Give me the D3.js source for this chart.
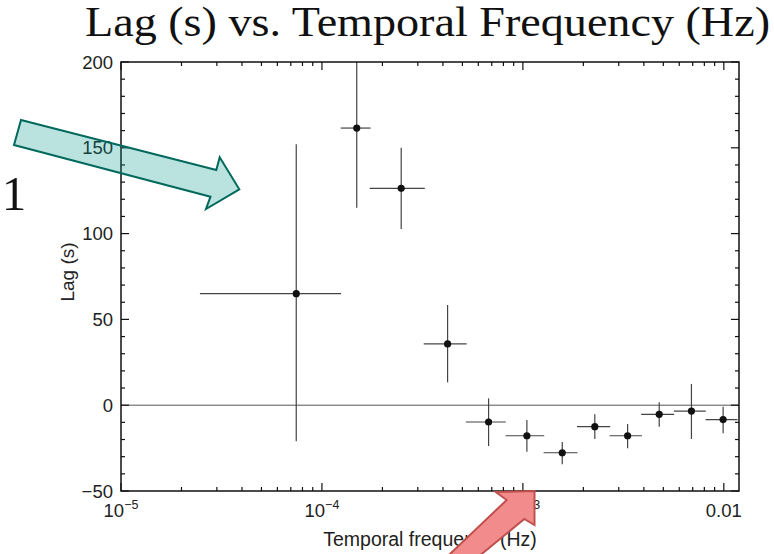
<!DOCTYPE html>
<html>
<head>
<meta charset="utf-8">
<script src="https://cdn.jsdelivr.net/npm/d3@7"></script>
<style>
  body { margin: 0; background: #fff; }
  svg { display: block; }
</style>
</head>
<body>
<script>
// values
var freq   = [7.45e-5, 1.49e-4, 2.48e-4, 4.22e-4, 6.75e-4, 1.047e-3, 1.57e-3, 2.28e-3, 3.32e-3, 4.77e-3, 6.90e-3, 9.92e-3];
var freqLo = [2.47e-5, 1.24e-4, 1.73e-4, 3.21e-4, 5.2e-4, 8.2e-4, 1.268e-3, 1.858e-3, 2.70e-3, 3.88e-3, 5.64e-3, 8.11e-3];
var freqHi = [1.245e-4, 1.746e-4, 3.25e-4, 5.25e-4, 8.22e-4, 1.277e-3, 1.87e-3, 2.72e-3, 3.91e-3, 5.66e-3, 8.13e-3, 1.17e-2];
var lag    = [65, 161.5, 126.4, 35.7, -9.8, -17.8, -27.7, -12.5, -17.8, -5.3, -3.4, -8.4];
var lagLo  = [-21, 115, 102.7, 13.3, -23.8, -27.1, -34.4, -19.7, -25.1, -12.5, -19.7, -16.4];
var lagHi  = [152, 200, 150, 58.4, 4.0, -8.6, -21.4, -5.3, -11.0, 1.7, 12.4, -0.9];

var yTicks = [-50, 0, 50, 100, 150, 200];
var yTickLabels = ['\u221250', '0', '50', '100', '150', '200'];
var xTicks = [1e-5, 1e-4, 1e-3, 1e-2];
var xTickBase = ['10', '10', '10', '0.01'];
var xTickExp = ['\u22125', '\u22124', '\u22123', ''];

var width = 774;
var height = 554;
var plotL = 121, plotR = 739, plotT = 62, plotB = 491;

var svg = d3.select('body').append('svg')
  .attr('width', width)
  .attr('height', height);

var x = d3.scaleLog().domain([1e-5, 0.0119]).range([plotL, plotR]);
var y = d3.scaleLinear().domain([-50, 200]).range([plotB, plotT]);

var sans = '"Liberation Sans", Arial, Helvetica, sans-serif';
var serif = '"Liberation Serif", "Times New Roman", serif';

// title
svg.append('text')
  .attr('x', 85)
  .attr('y', 36)
  .attr('textLength', 685)
  .attr('lengthAdjust', 'spacingAndGlyphs')
  .attr('font-family', serif)
  .attr('font-size', 42)
  .attr('fill', '#111')
  .text('Lag (s) vs. Temporal Frequency (Hz)');

svg.append('text')
  .attr('x', 14)
  .attr('y', 210)
  .attr('text-anchor', 'middle')
  .attr('font-family', serif)
  .attr('font-size', 49)
  .attr('fill', '#111')
  .text('1');

// zero line
svg.append('line')
  .attr('x1', plotL).attr('x2', plotR)
  .attr('y1', y(0)).attr('y2', y(0))
  .attr('stroke', '#555')
  .attr('stroke-width', 1);

// error bars
var bars = svg.append('g')
  .attr('stroke', '#444')
  .attr('stroke-width', 1.2);

freq.forEach(function(f, i) {
  bars.append('line')
    .attr('x1', x(freqLo[i])).attr('x2', x(freqHi[i]))
    .attr('y1', y(lag[i])).attr('y2', y(lag[i]));
  bars.append('line')
    .attr('x1', x(f)).attr('x2', x(f))
    .attr('y1', y(lagLo[i])).attr('y2', y(lagHi[i]));
});

svg.selectAll('circle.pt').data(freq).enter().append('circle')
  .attr('class', 'pt')
  .attr('cx', function(d) { return x(d); })
  .attr('cy', function(d, i) { return y(lag[i]); })
  .attr('r', 3.6)
  .attr('fill', '#111');

// frame and inward ticks
var frame = svg.append('g').attr('stroke', '#111').attr('fill', 'none');
frame.append('rect')
  .attr('x', plotL).attr('y', plotT)
  .attr('width', plotR - plotL).attr('height', plotB - plotT)
  .attr('stroke-width', 1.5);

var yMinor = d3.range(-50, 201, 10);
yMinor.forEach(function(v) {
  var len = (v % 50 === 0) ? 8 : 4;
  frame.append('line').attr('x1', plotL).attr('x2', plotL + len)
    .attr('y1', y(v)).attr('y2', y(v)).attr('stroke-width', 1.2);
  frame.append('line').attr('x1', plotR).attr('x2', plotR - len)
    .attr('y1', y(v)).attr('y2', y(v)).attr('stroke-width', 1.2);
});

x.ticks().forEach(function(v) {
  var lg = Math.log10(v);
  var len = Math.abs(lg - Math.round(lg)) < 1e-9 ? 8 : 4;
  frame.append('line').attr('x1', x(v)).attr('x2', x(v))
    .attr('y1', plotB).attr('y2', plotB - len).attr('stroke-width', 1.2);
  frame.append('line').attr('x1', x(v)).attr('x2', x(v))
    .attr('y1', plotT).attr('y2', plotT + len).attr('stroke-width', 1.2);
});

// tick labels
svg.selectAll('text.ylab').data(yTicks).enter().append('text')
  .attr('class', 'ylab')
  .attr('x', plotL - 8)
  .attr('y', function(d) { return y(d) + 6.5; })
  .attr('text-anchor', 'end')
  .attr('font-family', sans)
  .attr('font-size', 18.5)
  .attr('fill', '#222')
  .text(function(d, i) { return yTickLabels[i]; });

xTicks.forEach(function(v, i) {
  var t = svg.append('text')
    .attr('x', x(v))
    .attr('y', 517)
    .attr('text-anchor', 'middle')
    .attr('font-family', sans)
    .attr('font-size', 18.5)
    .attr('fill', '#222');
  t.append('tspan').text(xTickBase[i]);
  if (xTickExp[i]) {
    t.append('tspan').attr('dy', -8).attr('font-size', 12.5).text(xTickExp[i]);
  }
});

svg.append('text')
  .attr('x', 430)
  .attr('y', 546)
  .attr('text-anchor', 'middle')
  .attr('font-family', sans)
  .attr('font-size', 19.5)
  .attr('fill', '#222')
  .text('Temporal frequency (Hz)');

svg.append('text')
  .attr('transform', 'translate(74,' + 272 + ') rotate(-90)')
  .attr('text-anchor', 'middle')
  .attr('font-family', sans)
  .attr('font-size', 19)
  .attr('fill', '#222')
  .text('Lag (s)');

// annotation arrows
svg.append('polygon')
  .attr('points', '21,120 216.3,170 219.7,157.3 239.3,189.3 206,209 210.5,196.7 14,145')
  .attr('fill', '#009688')
  .attr('fill-opacity', 0.27)
  .attr('stroke', '#00695c')
  .attr('stroke-width', 2)
  .attr('stroke-linejoin', 'miter');

svg.append('polygon')
  .attr('points', '534.5,491 534.5,525 524.3,519 425.7,600 401.7,600 506.7,500 495.7,492')
  .attr('fill', '#f28c8c')
  .attr('stroke', '#c0504d')
  .attr('stroke-width', 2);
</script>
</body>
</html>
